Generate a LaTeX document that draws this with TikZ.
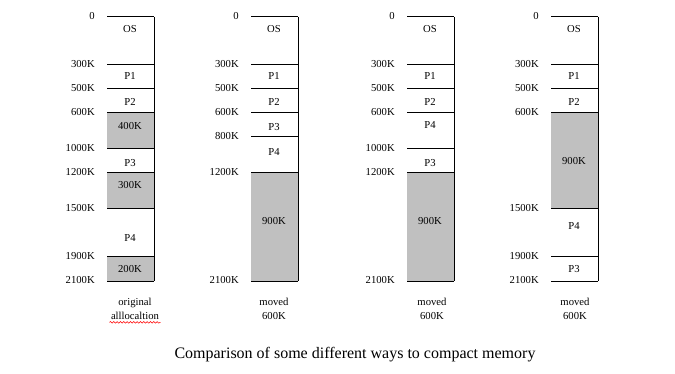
\documentclass[tikz,border=0pt]{standalone}
\usepackage{fontspec}
\setmainfont{Liberation Serif}
\usetikzlibrary{positioning,decorations.pathmorphing}
\definecolor{holegrey}{RGB}{192,192,192}
\tikzstyle{seg}=[inner sep=0pt,font=\fontsize{8}{9}\selectfont]
\tikzstyle{addr}=[anchor=east,inner sep=0pt,font=\fontsize{8}{9}\selectfont]
\tikzstyle{hole}=[fill=holegrey]
\tikzstyle{bound}=[line width=0.75pt]
\tikzstyle{colcap}=[inner sep=0pt,align=center,font=\fontsize{8}{11}\selectfont]

\begin{document}
\begin{tikzpicture}[x=0.75pt,y=-0.75pt]
\useasboundingbox (0,0) rectangle (675,374);

% holes
\fill[hole] (107,113) rectangle (154,149);
\fill[hole] (107,173) rectangle (154,209);
\fill[hole] (107,257) rectangle (154,281);
\fill[hole] (251,173) rectangle (298,281);
\fill[hole] (407,173) rectangle (454,281);
\fill[hole] (551,113) rectangle (598,209);

% original allocation
\foreach \y/\a in {17/0,65/300K,89/500K,113/600K,149/1000K,173/1200K,209/1500K,257/1900K,281/2100K}
  {\draw[bound] (107,\y) -- (154,\y);
   \node[addr] (a1-\y) at (95,\y-1) {\a};}
\draw[bound] (154,17) -- (154,281);
\foreach \y/\t in {29/OS,76/P1,102/P2,126/400K,163/P3,185/300K,238/P4,269/200K}
  \node[seg] (s1-\y) at (130,\y) {\t};
\node[colcap] (c1) at (135,309) {original\\alllocaltion};
\draw[red,line width=0.4pt,decorate,decoration={snake,amplitude=0.6pt,segment length=2.5pt}]
  ([xshift=-1pt,yshift=-1.5pt]c1.south west) -- ([xshift=1pt,yshift=-1.5pt]c1.south east);

% moved 600K, second
\foreach \y/\a in {17/0,65/300K,89/500K,113/600K,137/800K,173/1200K,281/2100K}
  {\draw[bound] (251,\y) -- (298,\y);
   \node[addr] (a2-\y) at (239,\y-1) {\a};}
\draw[bound] (298,17) -- (298,281);
\foreach \y/\t in {29/OS,76/P1,102/P2,127/P3,152/P4,221/900K}
  \node[seg] (s2-\y) at (274,\y) {\t};
\node[colcap] (c2) at (274,309) {moved\\600K};

% moved 600K, third
\foreach \y/\a in {17/0,65/300K,89/500K,113/600K,149/1000K,173/1200K,281/2100K}
  {\draw[bound] (407,\y) -- (454,\y);
   \node[addr] (a3-\y) at (395,\y-1) {\a};}
\draw[bound] (454,17) -- (454,281);
\foreach \y/\t in {29/OS,76/P1,102/P2,125/P4,163/P3,221/900K}
  \node[seg] (s3-\y) at (430,\y) {\t};
\node[colcap] (c3) at (432,309) {moved\\600K};

% moved 600K, fourth
\foreach \y/\a in {17/0,65/300K,89/500K,113/600K,209/1500K,257/1900K,281/2100K}
  {\draw[bound] (551,\y) -- (598,\y);
   \node[addr] (a4-\y) at (539,\y-1) {\a};}
\draw[bound] (598,17) -- (598,281);
\foreach \y/\t in {29/OS,76/P1,102/P2,161/900K,226/P4,269/P3}
  \node[seg] (s4-\y) at (574,\y) {\t};
\node[colcap] (c4) at (575,309) {moved\\600K};

\node[font=\fontsize{12}{14}\selectfont] (title) at (355,355) {Comparison of some different ways to compact memory};
\end{tikzpicture}
\end{document}
